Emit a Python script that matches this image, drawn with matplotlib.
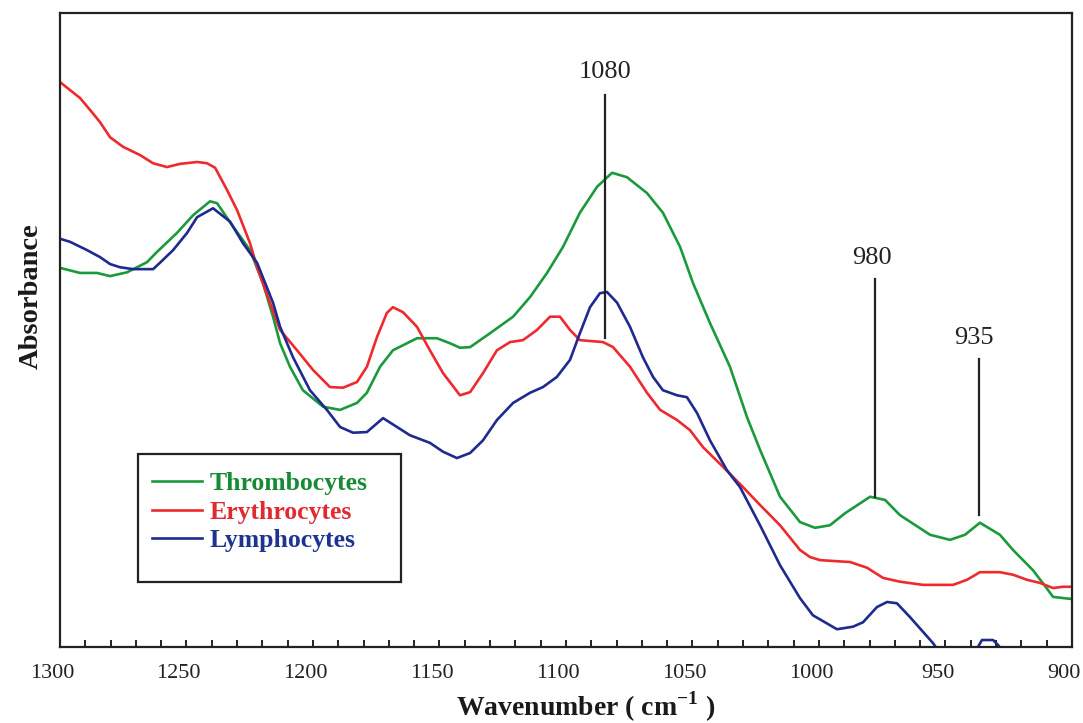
import matplotlib
matplotlib.use("Agg")
import matplotlib.pyplot as plt
from matplotlib.transforms import ScaledTranslation
from matplotlib.ticker import MultipleLocator
from matplotlib.patches import Rectangle

# ---------------- data ----------------
thrombo_wn = [1300, 1292.1, 1285.4, 1280.2, 1273.5, 1265.6, 1261.7, 1253.8, 1247.4, 1240.7,
              1237.9, 1232.8, 1224.9, 1219.8, 1215.8, 1213.0, 1209.1, 1204.0, 1196.0, 1189.3,
              1182.6, 1178.7, 1173.5, 1168.4, 1158.9, 1151.0, 1145.8, 1141.9, 1137.9, 1130.0,
              1120.9, 1114.2, 1107.5, 1101.2, 1094.5, 1087.7, 1081.8, 1075.9, 1068.0, 1061.7,
              1054.9, 1049.8, 1043.1, 1035.2, 1028.5, 1023.3, 1015.4, 1007.5, 1001.6, 995.7,
              989.7, 979.8, 973.9, 968.0, 956.1, 948.2, 942.3, 936.4, 928.5, 923.3,
              915.4, 909.5, 907.5, 900.8, 900]
thrombo_abs = [0.598, 0.590, 0.590, 0.585, 0.591, 0.607, 0.623, 0.653, 0.681, 0.703,
               0.700, 0.670, 0.626, 0.574, 0.521, 0.479, 0.442, 0.405, 0.379, 0.374,
               0.385, 0.401, 0.442, 0.468, 0.487, 0.487, 0.479, 0.472, 0.473, 0.495,
               0.521, 0.552, 0.590, 0.631, 0.685, 0.726, 0.748, 0.741, 0.716, 0.685,
               0.631, 0.574, 0.511, 0.442, 0.363, 0.311, 0.237, 0.197, 0.188, 0.192,
               0.211, 0.237, 0.232, 0.208, 0.177, 0.169, 0.177, 0.196, 0.177, 0.153,
               0.121, 0.090, 0.079, 0.076, 0.076]

erythro_wn = [1300, 1292.1, 1288.1, 1284.2, 1280.2, 1275.1, 1268.4, 1263.2, 1257.7, 1252.6,
              1245.8, 1241.9, 1238.7, 1234.0, 1230.0, 1224.9, 1222.1, 1217.0, 1213.0, 1206.3,
              1200.0, 1193.3, 1188.1, 1182.6, 1178.7, 1174.7, 1170.8, 1168.4, 1164.4, 1158.9,
              1153.8, 1148.6, 1141.9, 1137.9, 1132.8, 1127.3, 1122.1, 1117.0, 1111.5, 1106.3,
              1102.4, 1098.4, 1094.5, 1085.4, 1081.4, 1074.7, 1068.0, 1062.8, 1056.1, 1051.0,
              1045.8, 1037.9, 1030.0, 1023.3, 1015.4, 1007.5, 1003.6, 999.6, 987.7, 981.0,
              974.7, 968.0, 958.9, 947.0, 941.5, 936.4, 928.5, 923.3, 917.8, 912.6,
              907.5, 903.6, 900]
erythro_abs = [0.891, 0.866, 0.847, 0.828, 0.804, 0.789, 0.776, 0.763, 0.757, 0.762,
               0.765, 0.763, 0.756, 0.721, 0.689, 0.637, 0.599, 0.543, 0.500, 0.468,
               0.437, 0.410, 0.409, 0.418, 0.442, 0.489, 0.527, 0.536, 0.528, 0.505,
               0.468, 0.432, 0.397, 0.402, 0.432, 0.468, 0.481, 0.484, 0.500, 0.521,
               0.521, 0.500, 0.484, 0.481, 0.473, 0.442, 0.401, 0.374, 0.358, 0.342,
               0.315, 0.284, 0.252, 0.224, 0.192, 0.153, 0.142, 0.137, 0.134, 0.125,
               0.109, 0.103, 0.098, 0.098, 0.106, 0.118, 0.118, 0.114, 0.106, 0.101,
               0.093, 0.095, 0.095]

lympho_wn = [1300, 1296.0, 1289.3, 1284.2, 1280.2, 1276.3, 1271.1, 1263.2, 1260.5, 1255.3,
             1249.8, 1245.8, 1239.5, 1232.8, 1227.7, 1222.1, 1215.8, 1213.0, 1207.9, 1201.2,
             1194.5, 1189.3, 1184.2, 1178.7, 1172.3, 1166.8, 1161.7, 1153.8, 1148.6, 1143.1,
             1137.9, 1132.8, 1127.3, 1120.9, 1114.2, 1109.1, 1103.6, 1098.4, 1094.5, 1090.5,
             1086.6, 1083.8, 1079.8, 1074.7, 1069.6, 1065.6, 1061.7, 1056.1, 1052.2, 1048.2,
             1043.1, 1036.4, 1031.2, 1023.3, 1015.4, 1007.5, 1002.4, 992.9, 986.6, 982.6,
             977.1, 973.1, 969.2, 964.0, 958.9, 954.9, 950.2, 944.3, 938.3, 935.6,
             931.2, 929.2, 924.5, 912.6, 900]
lympho_abs = [0.644, 0.639, 0.626, 0.615, 0.604, 0.599, 0.596, 0.596, 0.606, 0.626,
              0.653, 0.678, 0.692, 0.671, 0.637, 0.606, 0.543, 0.505, 0.457, 0.405,
              0.374, 0.347, 0.338, 0.339, 0.361, 0.347, 0.334, 0.322, 0.308, 0.298,
              0.306, 0.326, 0.358, 0.385, 0.401, 0.410, 0.426, 0.453, 0.495, 0.536,
              0.558, 0.560, 0.543, 0.505, 0.457, 0.426, 0.405, 0.397, 0.394, 0.369,
              0.326, 0.279, 0.252, 0.192, 0.129, 0.077, 0.050, 0.028, 0.032, 0.039,
              0.063, 0.071, 0.069, 0.047, 0.024, 0.006, -0.021, -0.028, -0.008, 0.011,
              0.011, 0.003, -0.021, -0.036, -0.044]

series_names = ["Thrombocytes", "Erythrocytes", "Lymphocytes"]

# peak annotations
peak_labels = ["1080", "980", "935"]
peak_wn = [1084.6, 977.9, 936.8]
peak_line_top = [0.871, 0.580, 0.454]
peak_line_bottom = [0.487, 0.237, 0.208]
peak_text_wn = [1084.6, 979.0, 938.7]
peak_text_y = [0.907, 0.614, 0.487]

x_major_ticks = [1300, 1250, 1200, 1150, 1100, 1050, 1000, 950, 900]

# ---------------- style ----------------
plt.rcParams["font.family"] = ["Liberation Serif", "DejaVu Serif"]
plt.rcParams["mathtext.fontset"] = "custom"
plt.rcParams["mathtext.rm"] = "Liberation Serif"
plt.rcParams["mathtext.bf"] = "Liberation Serif:bold"
colors = ["#1a9a3c", "#ee2a2e", "#1f2a8e"]
text_colors = ["#178a35", "#e02a30", "#1f3490"]

fig = plt.figure(figsize=(10.83, 7.23), dpi=100)
ax = fig.add_axes([60 / 1083, 76 / 723, 1012 / 1083, 634 / 723])

curves = [(thrombo_wn, thrombo_abs), (erythro_wn, erythro_abs), (lympho_wn, lympho_abs)]
for (wn, ab), c, name in zip(curves, colors, series_names):
    ax.plot(wn, ab, color=c, lw=1.9, label=name, solid_joinstyle="round")

for lab, xw, yt, yb, tx, ty in zip(peak_labels, peak_wn, peak_line_top, peak_line_bottom,
                                   peak_text_wn, peak_text_y):
    ax.plot([xw, xw], [yb, yt], color="#222222", lw=1.6)
    ax.text(tx, ty, lab, ha="center", va="center", fontsize=19, color="#222222")

ax.set_xlim(1300, 900)
ax.set_ylim(0, 1.0)

ax.xaxis.set_major_locator(plt.FixedLocator(x_major_ticks))
ax.xaxis.set_minor_locator(MultipleLocator(10))
ax.set_xticklabels([str(v) for v in x_major_ticks])
ax.tick_params(axis="x", which="both", direction="in", length=5, width=1.4,
               labelsize=16, pad=12, colors="#222222", labelcolor="#222222")
ax.set_yticks([])
offset = ScaledTranslation(-8 / 100, 0, fig.dpi_scale_trans)
for lbl in ax.get_xticklabels():
    lbl.set_transform(lbl.get_transform() + offset)

for sp in ax.spines.values():
    sp.set_linewidth(1.6)
    sp.set_color("#222222")

ax.set_xlabel("Wavenumber ( cm$^{\\mathbf{-1}}$ )", fontsize=20, fontweight="bold",
              color="#1a1a1a", va="center")
ax.xaxis.set_label_coords(0.519, -0.095)
ax.set_ylabel("Absorbance", fontsize=20.5, fontweight="bold", color="#1a1a1a", va="center")
ax.yaxis.set_label_coords(-0.0286, 0.554)

# legend: entries without frame, plus a separate rectangular box
leg = ax.legend(loc="upper left", bbox_to_anchor=(0.0905, 0.276), frameon=False,
                prop={"weight": "bold", "size": 18.5}, handlelength=1.95,
                handletextpad=0.32, labelspacing=0.22, borderpad=0.0, borderaxespad=0.0)
for t, c in zip(leg.get_texts(), text_colors):
    t.set_color(c)
ax.add_patch(Rectangle((0.077, 0.1025), 0.26, 0.2019, transform=ax.transAxes,
                       fill=False, edgecolor="#222222", lw=1.6, zorder=5))

fig.savefig("out.png", dpi=100)
